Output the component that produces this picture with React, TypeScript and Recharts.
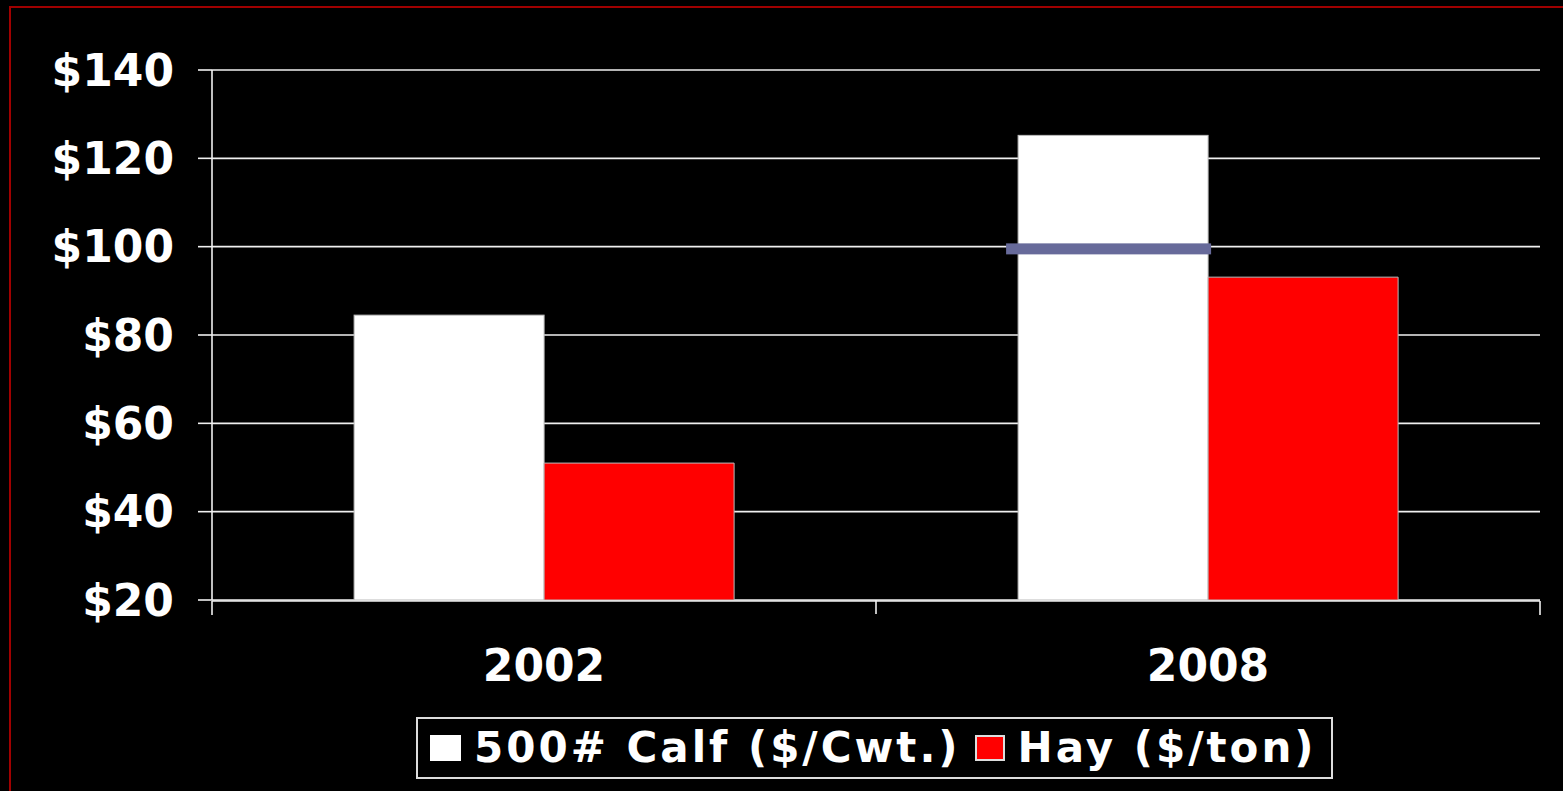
import React from "react";
import {
  ComposedChart, Bar, XAxis, YAxis, CartesianGrid, ReferenceLine,
} from "recharts";

const years = ["2002", "2008"];
const calfPrice = [84.5, 125.2];
const hayPrice = [51.0, 93.1];
const calfMarker = [null, 99.5];
const yTicks = [20, 40, 60, 80, 100, 120, 140];
const edgeTicks = [0, 1, 2];
const seriesNames = ["500# Calf ($/Cwt.)", "Hay ($/ton)"];
const seriesColors = ["#ffffff", "#ff0000"];

const data = years.map((year, i) => ({
  year,
  calf: calfPrice[i],
  hay: hayPrice[i],
  marker: calfMarker[i],
}));

const font = "'DejaVu Sans', Verdana, sans-serif";
const Y_MIN = 20;
const lineColor = "#f0f0f0";
const CAT_MARGIN = 50;

// calf bar plus the slate marker drawn across it
const CalfShape = (props: any) => {
  const { x, y, width, height, payload, fill } = props;
  const bar = (
    <rect x={x} y={y} width={width} height={height} fill={fill} stroke="#bbbbbb" strokeWidth={1} />
  );
  if (payload.marker == null) return bar;
  const k = height / (payload.calf - Y_MIN);
  const my = y + (payload.calf - payload.marker) * k;
  return (
    <g>
      {bar}
      <rect x={x - 12} y={my - 5.5} width={width + 15} height={11} fill="#676a9a" />
    </g>
  );
};

// year label, plus the divider tick between categories
const YearTick = (props: any) => {
  const { x, y, payload, index } = props;
  const half = typeof payload?.offset === "number" ? payload.offset : 0;
  const axisY = y - CAT_MARGIN;
  return (
    <g>
      {index > 0 && half > 0 && (
        <line x1={x - half} x2={x - half} y1={axisY} y2={axisY + 14} stroke={lineColor} strokeWidth={1.6} />
      )}
      <text x={x} y={y} dy="0.71em" textAnchor="middle" fill="#fff" fontSize={44} fontWeight={700} fontFamily={font}>
        {payload.value}
      </text>
    </g>
  );
};

export default function App() {
  return (
    <div style={{ position: "fixed", left: 0, top: 0, width: 1563, height: 791, background: "#000", overflow: "hidden", fontFamily: font }}>
      <div style={{ position: "absolute", left: 9, top: 6, width: 1600, height: 900, border: "2px solid #a00000" }} />
      <div style={{ position: "absolute", left: 0, top: 0 }}>
        <ComposedChart
          width={1563}
          height={791}
          data={data}
          margin={{ top: 70, right: 23, bottom: 189, left: 0 }}
          barCategoryGap="21.4%"
          barGap={0}
        >
          <CartesianGrid vertical={false} stroke={lineColor} strokeWidth={1.6} xAxisId="edges" />
          <XAxis
            xAxisId="edges"
            type="number"
            domain={[0, 2]}
            ticks={edgeTicks}
            interval={0}
            minTickGap={0}
            tickFormatter={() => ""}
            tick={{ fontSize: 1 }}
            tickSize={14}
            tickLine={{ stroke: lineColor, strokeWidth: 1.6 }}
            axisLine={{ stroke: lineColor, strokeWidth: 1.6 }}
            height={1}
          />
          <XAxis
            xAxisId="cat"
            dataKey="year"
            tickLine={false}
            axisLine={false}
            tickSize={0}
            tickMargin={CAT_MARGIN}
            height={1}
            interval={0}
            tick={YearTick}
          />
          <YAxis
            domain={[20, 140]}
            ticks={yTicks}
            width={212}
            tickSize={14}
            tickMargin={24}
            tickFormatter={(v) => `$${v}`}
            tickLine={{ stroke: lineColor, strokeWidth: 1.6 }}
            axisLine={{ stroke: lineColor, strokeWidth: 1.6 }}
            tick={{ fill: "#fff", fontSize: 44, fontWeight: 700, fontFamily: font }}
          />
          <ReferenceLine xAxisId="edges" x={2} stroke={lineColor} strokeWidth={1.6} />
          <Bar xAxisId="cat" dataKey="calf" fill={seriesColors[0]} shape={CalfShape} isAnimationActive={false} />
          <Bar xAxisId="cat" dataKey="hay" fill={seriesColors[1]} stroke="#bbbbbb" strokeWidth={1} isAnimationActive={false} />
        </ComposedChart>
      </div>
      <div
        style={{
          position: "absolute", left: 416, top: 717, width: 901, height: 58,
          border: "2px solid #dddddd", display: "flex", alignItems: "center",
          paddingLeft: 12, boxSizing: "content-box",
        }}
      >
        {seriesNames.map((name, i) => (
          <div key={name} style={{ display: "flex", alignItems: "center", marginRight: i === 0 ? 14 : 0 }}>
            <div
              style={{
                width: i === 0 ? 31 : 26, height: i === 0 ? 26 : 22, background: seriesColors[i],
                border: i === 0 ? "none" : "2px solid #dddddd", marginRight: 13,
              }}
            />
            <span style={{ color: "#fff", fontSize: 42, fontWeight: 700, letterSpacing: 3, lineHeight: 1, whiteSpace: "nowrap" }}>
              {name}
            </span>
          </div>
        ))}
      </div>
    </div>
  );
}
